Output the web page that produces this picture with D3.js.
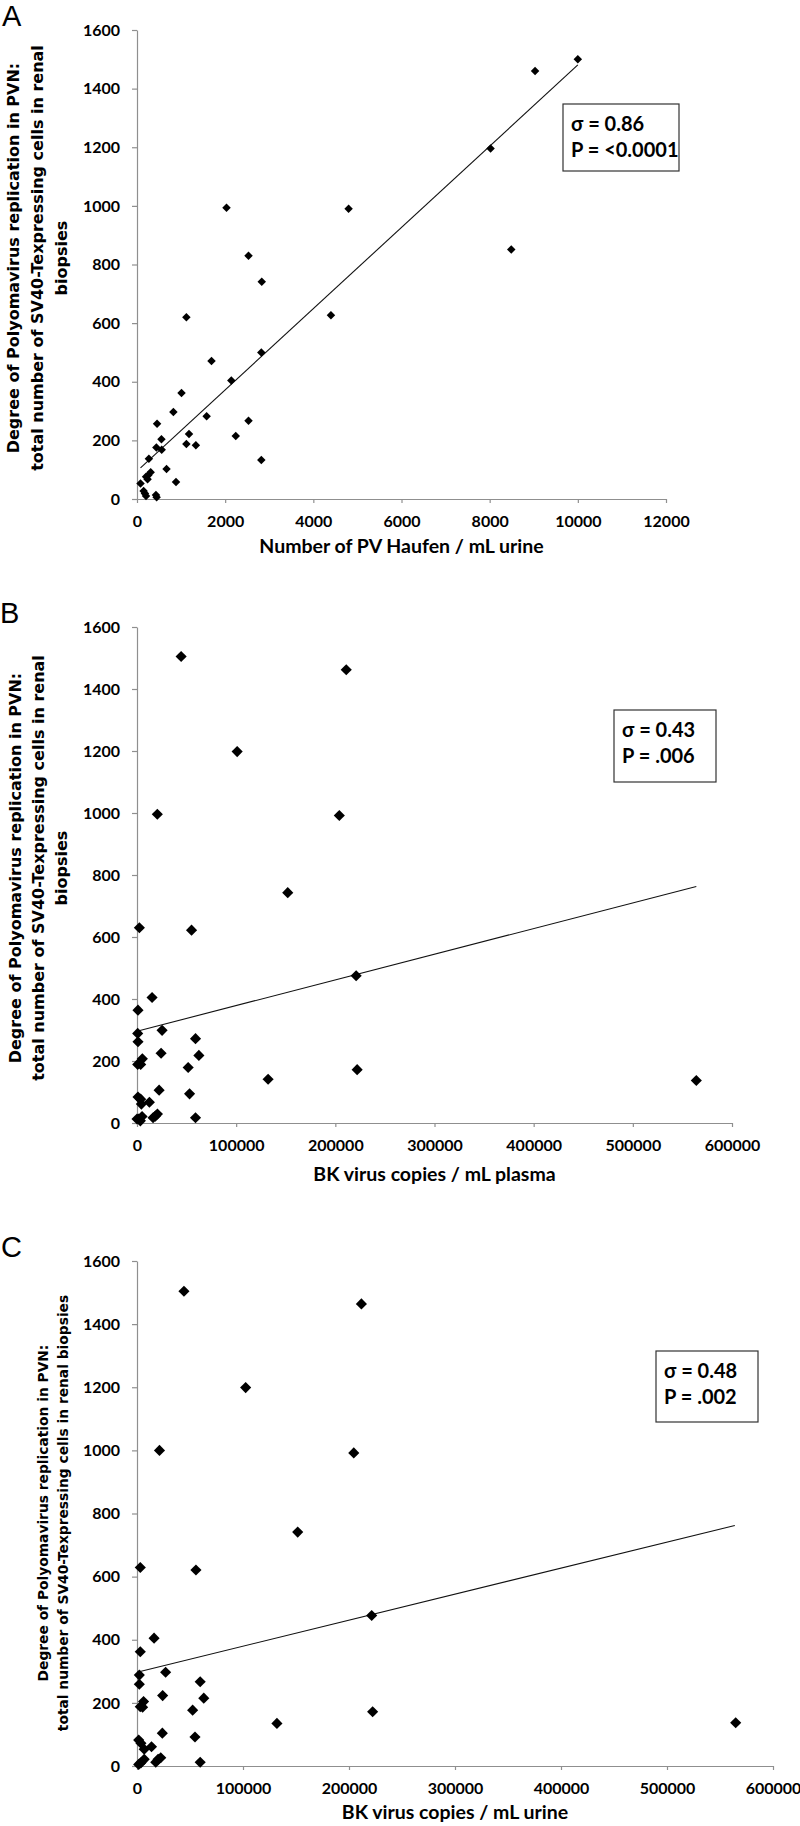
<!DOCTYPE html>
<html><head><meta charset="utf-8">
<script src="https://cdn.jsdelivr.net/npm/d3@7"></script>
<style>body{margin:0;background:#fff}svg{display:block}</style>
</head><body>
<svg id="chart" width="800" height="1826"></svg>
<script>
// ---------- DATA ----------
// Panel A: PV Haufen / mL urine vs SV40-T expressing cells
const haufenX = [10000,9030,8020,8490,4800,2030,2530,2830,4400,1120,2820,1690,2140,1010,825,1580,2530,455,1180,2240,555,1120,1335,440,560,270,2820,670,310,255,205,240,80,885,150,180,205,430,445];
const haufenY = [1500,1460,1196,851,990,994,830,741,627,620,500,471,404,362,297,282,267,257,222,215,204,188,183,176,168,137,133,102,91,81,76,67,53,58,27,19,10,14,6];
// Panel B: BK virus copies / mL plasma
const plasmaX = [44500,211000,101000,20500,204000,152000,2400,55000,221000,15200,1000,700,25300,1000,59000,24300,62400,5400,700,3700,51600,222000,132200,564000,22300,53000,1000,3700,12500,4400,20600,18500,16200,59000,5100,1700,0,3400];
const plasmaY = [1505,1462,1198,996,992,743,630,622,475,405,364,289,299,262,272,225,218,207,189,189,179,172,141,137,106,94,84,77,67,61,29,22,17,17,21,13,13,7];
// Panel C: BK virus copies / mL urine
const urineX = [44300,211700,102500,21200,204500,151600,3100,55600,221400,16100,3100,2200,27000,2200,59600,24200,63000,6200,3100,5300,52500,222300,132000,564800,23900,54700,1600,3700,13700,6800,22400,19900,17700,59600,6800,3700,1600];
const urineY = [1504,1464,1199,1000,992,741,629,621,477,405,362,288,297,259,267,223,215,204,188,186,177,172,135,137,104,92,82,72,61,53,26,21,12,12,21,10,5];
// trend lines: [x0,x1], [y0,y1]
const trendAX = [80,10000], trendAY = [106,1481];
const trendBX = [0,564000], trendBY = [296,763];
const trendCX = [0,564000], trendCY = [297,762];
// ticks
const yTicks = [0,200,400,600,800,1000,1200,1400,1600];
const xTicksA = [0,2000,4000,6000,8000,10000,12000];
const xTicksBC = [0,100000,200000,300000,400000,500000,600000];
// texts
const yTitle3 = ["Degree of Polyomavirus replication in PVN:","total number of SV40-Texpressing cells in renal","biopsies"];
const yTitle2 = ["Degree of Polyomavirus replication in PVN:","total number of SV40-Texpressing cells in renal biopsies"];
const statsA = ["σ = 0.86","P = <0.0001"], statsB = ["σ = 0.43","P = .006"], statsC = ["σ = 0.48","P = .002"];

// ---------- DRAW ----------
const svg = d3.select("#chart");
const tickFont = "Lato, 'Open Sans', sans-serif";
const axisColor = "#8f8f8f";

function panel(o){
  const x = d3.scaleLinear().domain([0,o.xMax]).range([o.l,o.r]);
  const y = d3.scaleLinear().domain([0,1600]).range([o.b,o.t]);
  const g = svg.append("g");
  g.append("text").attr("x",o.letterX).attr("y",o.letterY).text(o.letter)
    .style("font-family","'Liberation Sans', Arial, sans-serif").style("font-size","29px").attr("fill","#000");
  const ya = g.append("g").attr("transform",`translate(${o.l},0)`)
    .call(d3.axisLeft(y).tickValues(yTicks).tickSize(5).tickSizeOuter(0).tickPadding(12).tickFormat(d3.format("d")));
  const xa = g.append("g").attr("transform",`translate(0,${o.b})`)
    .call(d3.axisBottom(x).tickValues(o.xt).tickSize(4).tickSizeOuter(0).tickPadding(13).tickFormat(d3.format("d")));
  [ya,xa].forEach(a=>{
    a.selectAll("path,line").attr("stroke",axisColor).attr("stroke-width",1.2);
    a.selectAll("text").style("font-family",tickFont).style("font-weight","700").style("font-size","16px").attr("fill","#000");
  });
  g.append("line").attr("x1",x(o.tx[0])).attr("y1",y(o.ty[0])).attr("x2",x(o.tx[1])).attr("y2",y(o.ty[1]))
    .attr("stroke","#111").attr("stroke-width",1.1);
  const sym = d3.symbol().type(d3.symbolSquare).size(o.msize);
  g.append("g").selectAll("path").data(o.xs.map((v,i)=>[v,o.ys[i]])).join("path")
    .attr("d",sym).attr("transform",d=>`translate(${x(d[0])},${y(d[1])}) rotate(45)`).attr("fill","#000");
  g.append("text").attr("x",(o.l+o.r)/2).attr("y",o.xTitleY).attr("text-anchor","middle").text(o.xTitle)
    .style("font-family",tickFont).style("font-weight","700").style("font-size","19.5px");
  const yt = g.append("text").attr("transform",`translate(0,${o.yTitleC}) rotate(-90)`).attr("text-anchor","middle")
    .style("font-family","'DejaVu Sans', Verdana, sans-serif").style("font-weight","700").style("font-size",o.yFont+"px");
  o.yLines.forEach((s,i)=>yt.append("tspan").attr("x",0).attr("y",o.yLineX[i]).text(s));
  g.append("rect").attr("x",o.box[0]).attr("y",o.box[1]).attr("width",o.box[2]).attr("height",o.box[3])
    .attr("fill","#fff").attr("stroke","#333").attr("stroke-width",1.2);
  o.stats.forEach((s,i)=>g.append("text").attr("x",o.box[0]+8).attr("y",o.box[1]+27+i*26).text(s)
    .style("font-family",tickFont).style("font-weight","700").style("font-size","20px"));
}

panel({letter:"A",letterX:2,letterY:26,l:137,r:666,t:30,b:499,xMax:12000,xt:xTicksA,xs:haufenX,ys:haufenY,tx:trendAX,ty:trendAY,msize:36,
  xTitle:"Number of PV Haufen / mL urine",xTitleY:553,yLines:yTitle3,yLineX:[19,43,67],yTitleC:258,yFont:16,
  box:[563,104,116,67],stats:statsA});
panel({letter:"B",letterX:0,letterY:623,l:137,r:732,t:627,b:1123,xMax:600000,xt:xTicksBC,xs:plasmaX,ys:plasmaY,tx:trendBX,ty:trendBY,msize:62,
  xTitle:"BK virus copies / mL plasma",xTitleY:1181,yLines:yTitle3,yLineX:[21,44,67],yTitleC:868,yFont:16,
  box:[614,710,102,72],stats:statsB});
panel({letter:"C",letterX:1,letterY:1257,l:137,r:773,t:1261,b:1766,xMax:600000,xt:xTicksBC,xs:urineX,ys:urineY,tx:trendCX,ty:trendCY,msize:62,
  xTitle:"BK virus copies / mL urine",xTitleY:1819,yLines:yTitle2,yLineX:[48,68],yTitleC:1513,yFont:13.8,
  box:[656,1351,102,71],stats:statsC});
</script>
</body></html>
